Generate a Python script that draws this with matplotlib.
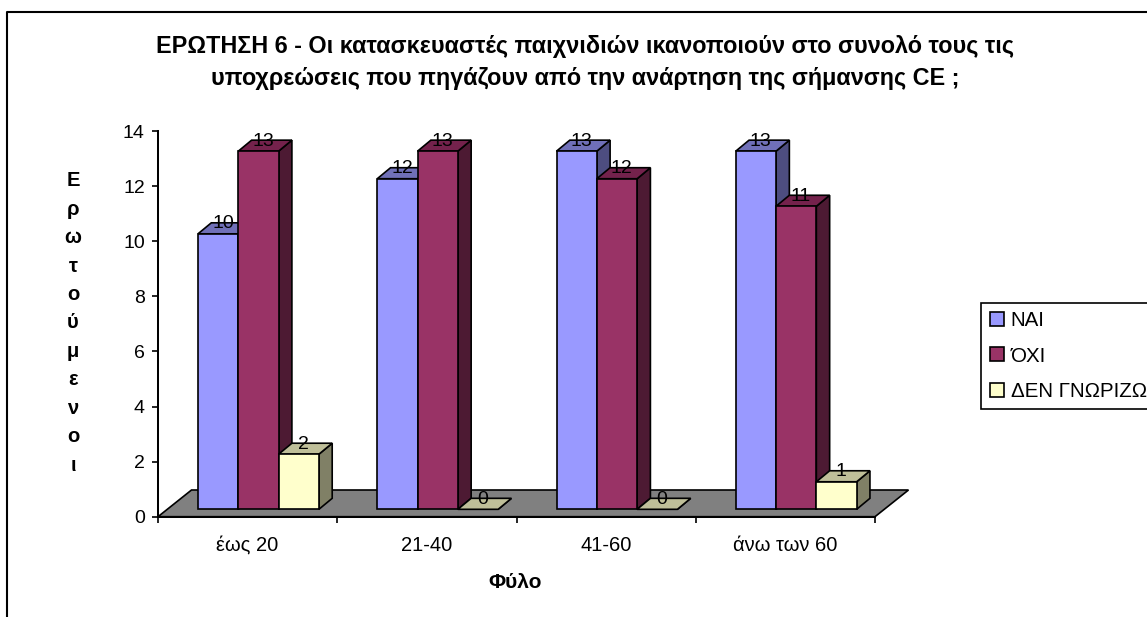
import matplotlib
matplotlib.use('Agg')
import matplotlib.pyplot as plt
from matplotlib.lines import Line2D
from matplotlib.patches import Polygon, Patch

plt.rcParams['font.family'] = ['Liberation Sans', 'DejaVu Sans']

# data
categories = ['έως 20', '21-40', '41-60', 'άνω των 60']
nai = [10, 12, 13, 13]
ochi = [13, 13, 12, 11]
den_gnorizo = [2, 0, 0, 1]
series_names = ['ΝΑΙ', 'ΌΧΙ', 'ΔΕΝ ΓΝΩΡΙΖΩ']
y_ticks = [0, 2, 4, 6, 8, 10, 12, 14]

title_lines = ['ΕΡΩΤΗΣΗ 6 - Οι κατασκευαστές παιχνιδιών ικανοποιούν στο συνολό τους τις',
               'υποχρεώσεις που πηγάζουν από την ανάρτηση της σήμανσης CE ;']
y_label = 'Ερωτούμενοι'
x_label = 'Φύλο'

W, H = 1147, 617
front = ['#9999FF', '#993366', '#FFFFCC']
top = ['#7070B8', '#74224C', '#BFBF99']
side = ['#4D4D80', '#4D1A33', '#808066']

fig = plt.figure(figsize=(W / 100, H / 100), dpi=100, facecolor='white')

# axes = front plane of the 3D box
left, right, y0, y14 = 158, 875, 516.7, 131
ax = fig.add_axes([left / W, 1 - y0 / H, (right - left) / W, (y0 - y14) / H])
ax.set_xlim(0, 4)
ax.set_ylim(0, 14)
ax.patch.set_visible(False)
for s in ['top', 'right']:
    ax.spines[s].set_visible(False)
for s in ['left', 'bottom']:
    ax.spines[s].set_linewidth(1.45)
    ax.spines[s].set_zorder(1)

# offsets, in data units
bar_w = 0.2248
bar_start = 0.2232
base = 0.268
dx, dy = 13.3 / 179.25, 11 / 27.55
floor_dx, floor_dy = 33.5 / 179.25, 26.7 / 27.55

ax.add_patch(Polygon([(0, 0), (floor_dx, floor_dy), (4 + floor_dx, floor_dy), (4, 0)],
                     closed=True, facecolor='#808080', edgecolor='black', lw=1.2,
                     clip_on=False, zorder=0.5))

z = 2
for i in range(len(categories)):
    for j, vals in enumerate([nai, ochi, den_gnorizo]):
        v = vals[i]
        x = i + bar_start + j * bar_w
        h = base + v
        ax.add_patch(Polygon([(x + bar_w, base), (x + bar_w + dx, base + dy),
                              (x + bar_w + dx, h + dy), (x + bar_w, h)],
                             closed=True, facecolor=side[j], edgecolor='black',
                             lw=1.2, clip_on=False, zorder=z))
        ax.add_patch(Polygon([(x, h), (x + dx, h + dy), (x + bar_w + dx, h + dy), (x + bar_w, h)],
                             closed=True, facecolor=top[j], edgecolor='black',
                             lw=1.2, clip_on=False, zorder=z))
        if v > 0:
            ax.bar(x, v, bottom=base, width=bar_w, align='edge', color=front[j],
                   edgecolor='black', lw=1.2, clip_on=False, zorder=z + 0.1)
        z += 1
# labels go last so they sit over the bars
for i in range(len(categories)):
    for j, vals in enumerate([nai, ochi, den_gnorizo]):
        v = vals[i]
        x = i + bar_start + j * bar_w + bar_w / 2
        ax.annotate(str(v), (x, base + v), xytext=(3.4, 4), textcoords='offset points',
                    ha='center', va='baseline', fontsize=14, color='black',
                    annotation_clip=False, zorder=100)

ax.set_xticks(range(5))
ax.set_xticklabels([])
ax.set_yticks(y_ticks)
ax.tick_params(axis='both', length=4.5, width=1.2, labelsize=14, color='black')
ax.tick_params(axis='y', pad=5)
for i, c in enumerate(categories):
    ax.annotate(c, (i + 0.5, 0), xytext=(0, -24.7), textcoords='offset points',
                ha='center', va='baseline', fontsize=14.5, annotation_clip=False)

fig.text(585 / W, 1 - 53 / H, title_lines[0], ha='center', va='baseline',
         fontsize=16.8, fontweight='bold')
fig.text(585 / W, 1 - 85.5 / H, title_lines[1], ha='center', va='baseline',
         fontsize=16.8, fontweight='bold')
fig.text(515 / W, 1 - 588 / H, x_label, ha='center', va='baseline', fontsize=15, fontweight='bold')
fig.text(73 / W, 1 - 323 / H, '\n'.join(y_label), ha='center', va='center',
         fontsize=14.5, fontweight='bold', linespacing=1.63)

handles = [Patch(facecolor=c, edgecolor='black', lw=1.2) for c in front]
leg = fig.legend(handles, series_names, loc='upper left',
                 bbox_to_anchor=(981 / W, 1 - 302.7 / H), borderaxespad=0,
                 fontsize=14.8, fancybox=False, framealpha=1, edgecolor='black',
                 handlelength=0.68, handleheight=0.68, handletextpad=0.34,
                 labelspacing=0.79, borderpad=0.42)
leg.get_frame().set_linewidth(1.2)

# outer chart frame, cut off on right and bottom
fig.add_artist(Line2D([7 / W, 7 / W, 1], [0, 1 - 12 / H, 1 - 12 / H], color='black', lw=1.5))

fig.savefig('out.png', dpi=100, facecolor='white')
